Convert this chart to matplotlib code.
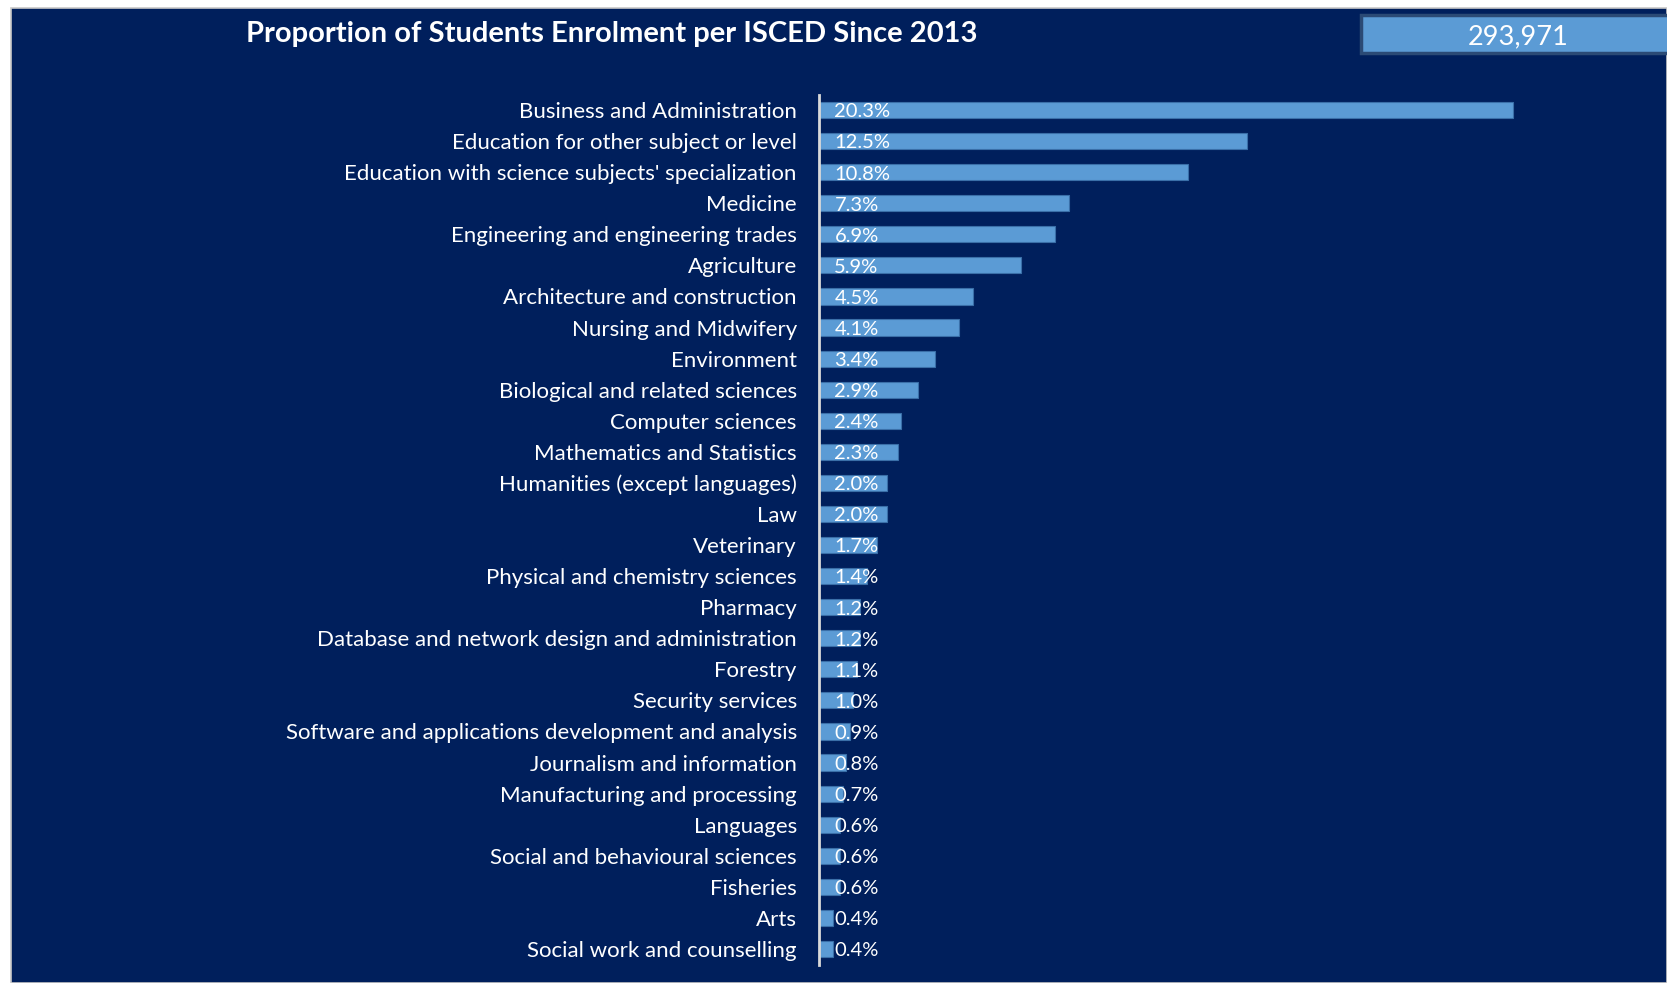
import matplotlib.pyplot as plt
from matplotlib.patches import Rectangle

categories = ["Business and Administration", "Education for other subject or level",
              "Education with science subjects' specialization", "Medicine",
              "Engineering and engineering trades", "Agriculture",
              "Architecture and construction", "Nursing and Midwifery", "Environment",
              "Biological and related sciences", "Computer sciences",
              "Mathematics and Statistics", "Humanities (except languages)", "Law",
              "Veterinary", "Physical and chemistry sciences", "Pharmacy",
              "Database and network design and administration", "Forestry",
              "Security services", "Software and applications development and analysis",
              "Journalism and information", "Manufacturing and processing", "Languages",
              "Social and behavioural sciences", "Fisheries", "Arts",
              "Social work and counselling"]
shares = [20.3, 12.5, 10.8, 7.3, 6.9, 5.9, 4.5, 4.1, 3.4, 2.9, 2.4, 2.3, 2.0, 2.0,
          1.7, 1.4, 1.2, 1.2, 1.1, 1.0, 0.9, 0.8, 0.7, 0.6, 0.6, 0.6, 0.4, 0.4]
total = 293971
title = "Proportion of Students Enrolment per ISCED Since 2013"

navy = "#001F5C"
bar_col = "#5B9BD5"
plt.rcParams['font.family'] = ['Lato', 'DejaVu Sans']

W, H = 1667, 983
fig = plt.figure(figsize=(W / 100, H / 100), dpi=100, facecolor="white")

# navy panel with a thin grey frame, white strip left and top
fig.patches.append(Rectangle((11 / W, 0), 1 - 11 / W, 1 - 8 / H, transform=fig.transFigure,
                             facecolor=navy, edgecolor="#C8C8C8", linewidth=1.2, zorder=0))

ax = fig.add_axes([819 / W, 1 - 964.5 / H, 1 - 819 / W, 870 / H])
ax.set_zorder(2)
ax.set_facecolor("none")
y = list(range(len(categories)))
ax.barh(y, shares, height=0.52, color=bar_col, edgecolor="#3A6FA8", linewidth=0.8)
for yi, v in zip(y, shares):
    ax.text(0.45, yi + 0.06, f"{v:.1f}%", color="white", fontsize=14.5, va="center", ha="left")

ax.set_xlim(0, 848 / 34.2)
ax.set_ylim(len(categories) - 0.5, -0.5)
ax.set_yticks(y)
ax.set_yticklabels(categories, color="white", fontsize=16)
ax.tick_params(axis="y", length=0, pad=16)
ax.set_xticks([])
for s in ["top", "right", "bottom"]:
    ax.spines[s].set_visible(False)
ax.spines["left"].set_color("#D9D9D9")
ax.spines["left"].set_linewidth(2)

fig.text(246 / W, 1 - 34 / H, title, color="white", fontsize=21, fontweight="bold",
         va="center", ha="left", zorder=3)

# total box top right
fig.patches.append(Rectangle((1361 / W, 1 - 53 / H), 1 - 1361 / W + 0.01, 38 / H,
                             transform=fig.transFigure, facecolor=bar_col,
                             edgecolor="#2B4A75", linewidth=2.5, zorder=1))
fig.text(1518 / W, 1 - 37 / H, f"{total:,}", color="white", fontsize=19.5,
         va="center", ha="center", zorder=3)

fig.savefig("out.png", dpi=100, facecolor=fig.get_facecolor())
